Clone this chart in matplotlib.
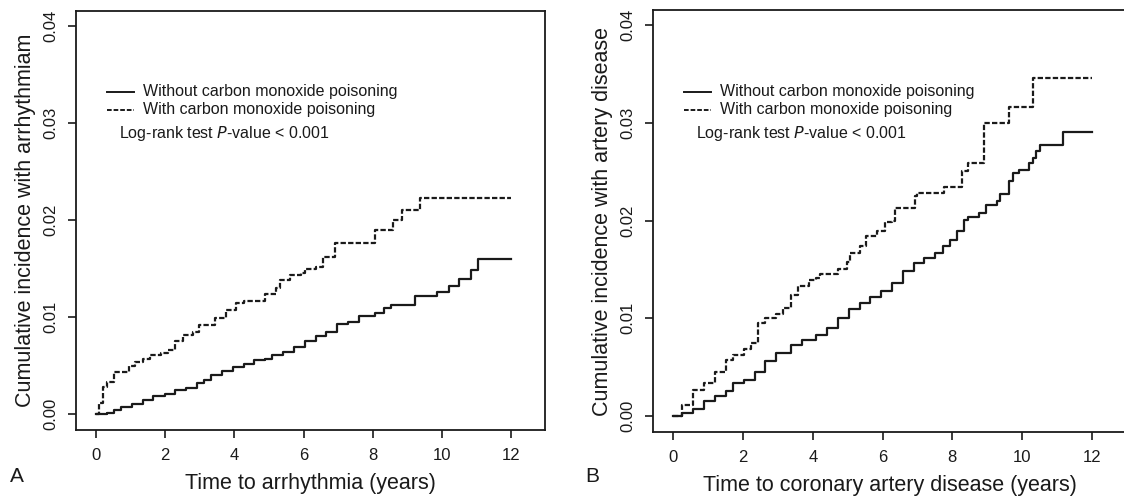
import matplotlib
matplotlib.use("Agg")
import matplotlib.pyplot as plt

plt.rcParams['font.family'] = ['Liberation Sans', 'DejaVu Sans']

# Panel A: arrhythmia
a_with_t = [0, 0.08, 0.21, 0.32, 0.52, 0.94, 1.14, 1.35, 1.56, 1.87, 2.08, 2.29, 2.5, 2.81, 2.97,
            3.43, 3.75, 4.06, 4.27, 4.89, 5.2, 5.31, 5.62, 5.93, 6.04, 6.35, 6.55, 6.92, 8.06,
            8.58, 8.84, 9.37, 12]
a_with_y = [0, 0.0011, 0.0028, 0.0033, 0.0043, 0.0049, 0.0054, 0.0057, 0.0061, 0.0063, 0.0066,
            0.0075, 0.0081, 0.0085, 0.0092, 0.0099, 0.0107, 0.0114, 0.0116, 0.0124, 0.013,
            0.0138, 0.0143, 0.0145, 0.0149, 0.0152, 0.0162, 0.0176, 0.019, 0.02, 0.021, 0.0223,
            0.0223]
a_wo_t = [0, 0.31, 0.52, 0.73, 1.04, 1.35, 1.66, 1.98, 2.29, 2.6, 2.91, 3.12, 3.33, 3.64, 3.95,
          4.27, 4.58, 4.89, 5.1, 5.41, 5.72, 6.04, 6.35, 6.66, 6.97, 7.28, 7.6, 8.06, 8.32, 8.53,
          9.21, 9.87, 10.2, 10.5, 10.84, 11.05, 12]
a_wo_y = [0, 0.0001, 0.0004, 0.0007, 0.001, 0.0014, 0.0019, 0.0021, 0.0025, 0.0027, 0.0032,
          0.0035, 0.004, 0.0044, 0.0048, 0.0052, 0.0056, 0.0057, 0.0061, 0.0064, 0.0069, 0.0075,
          0.008, 0.0085, 0.0093, 0.0095, 0.0101, 0.0104, 0.0109, 0.0112, 0.0122, 0.0126, 0.0132,
          0.0139, 0.0148, 0.016, 0.016]

# Panel B: coronary artery disease
b_with_t = [0, 0.26, 0.57, 0.88, 1.19, 1.5, 1.71, 2.02, 2.23, 2.44, 2.64, 2.95, 3.16, 3.37, 3.58,
            3.89, 4.09, 4.2, 4.72, 4.97, 5.08, 5.34, 5.54, 5.85, 6.06, 6.27, 6.37, 6.94, 6.99,
            7.77, 8.29, 8.45, 8.91, 9.64, 10.31, 12]
b_with_y = [0, 0.0011, 0.0027, 0.0034, 0.0045, 0.0057, 0.0062, 0.0068, 0.0075, 0.0095, 0.01,
            0.0104, 0.011, 0.0124, 0.0133, 0.0139, 0.0141, 0.0145, 0.015, 0.0158, 0.0167, 0.0174,
            0.0184, 0.0189, 0.0198, 0.0199, 0.0213, 0.0225, 0.0228, 0.0234, 0.0251, 0.0259, 0.03,
            0.0316, 0.0346, 0.0346]
b_wo_t = [0, 0.26, 0.57, 0.88, 1.19, 1.5, 1.71, 2.02, 2.33, 2.64, 2.95, 3.37, 3.68, 4.09, 4.4,
          4.72, 5.03, 5.34, 5.65, 5.96, 6.27, 6.58, 6.89, 7.2, 7.51, 7.72, 7.93, 8.13, 8.34, 8.45,
          8.76, 8.96, 9.27, 9.38, 9.64, 9.75, 9.9, 10.21, 10.31, 10.41, 10.52, 11.17, 12]
b_wo_y = [0, 0.0003, 0.0007, 0.0015, 0.002, 0.0025, 0.0034, 0.0037, 0.0045, 0.0056, 0.0064,
          0.0073, 0.0078, 0.0083, 0.009, 0.01, 0.0109, 0.0116, 0.0122, 0.0128, 0.0136, 0.0148,
          0.0157, 0.0162, 0.0167, 0.0174, 0.018, 0.0189, 0.0201, 0.0204, 0.0208, 0.0216, 0.022,
          0.0227, 0.024, 0.0249, 0.0252, 0.0259, 0.0264, 0.0271, 0.0277, 0.0291, 0.0291]

xticks = [0, 2, 4, 6, 8, 10, 12]
yticks = [0.00, 0.01, 0.02, 0.03, 0.04]
labels = ['Without carbon monoxide poisoning', 'With carbon monoxide poisoning']

INK = '#1a1a1a'
DASH = (0, (2.4, 1.0))

fig = plt.figure(figsize=(11.24, 5.01), dpi=100)
W, H = 1124, 501


def panel(rect, wo, wi, xlabel, ylabel, letter, letter_x):
    l, t, r, b = rect
    ax = fig.add_axes([l / W, 1 - b / H, (r - l) / W, (b - t) / H])
    ax.plot(wo[0], wo[1], drawstyle='steps-post', color=INK, lw=1.6)
    ax.plot(wi[0], wi[1], drawstyle='steps-post', color=INK, lw=1.6, linestyle=DASH)
    ax.set_xlim(-0.58, 12.98)
    ax.set_ylim(-0.00165, 0.04155)
    ax.set_xticks(xticks)
    ax.set_xticklabels([str(v) for v in xticks])
    ax.set_yticks(yticks)
    ax.set_yticklabels(['%.2f' % v for v in yticks], rotation=90, va='center')
    ax.tick_params(direction='out', length=5.8, width=1.2, labelsize=12, colors=INK, pad=7)
    for s in ax.spines.values():
        s.set_linewidth(1.3)
        s.set_color(INK)
    ax.set_xlabel(xlabel, fontsize=15.5, color=INK, labelpad=7)
    ax.set_ylabel(ylabel, fontsize=15.5, color=INK, labelpad=5.5)

    # legend drawn in data units, as in the original R plot
    ax.plot([0.31, 1.09], [0.0332, 0.0332], color=INK, lw=1.4)
    ax.plot([0.31, 1.09], [0.03135, 0.03135], color=INK, lw=1.4, linestyle=DASH)
    ax.text(1.35, 0.0332, labels[0], fontsize=11.5, color=INK, va='center', ha='left')
    ax.text(1.35, 0.03135, labels[1], fontsize=11.5, color=INK, va='center', ha='left')
    ax.text(0.66, 0.0289, 'Log-rank test $\\it{P}$-value < 0.001', fontsize=11.5, color=INK,
            va='center', ha='left')
    fig.text(letter_x / W, 1 - 476 / H, letter, fontsize=15, color=INK, va='center', ha='left')
    return ax


axA = panel((76, 11, 545, 430), (a_wo_t, a_wo_y), (a_with_t, a_with_y),
            'Time to arrhythmia (years)', 'Cumulative incidence with arrhythmiam', 'A', 10)
axB = panel((653, 10, 1126, 432), (b_wo_t, b_wo_y), (b_with_t, b_with_y),
            'Time to coronary artery disease (years)', 'Cumulative incidence with artery disease',
            'B', 585)

fig.savefig('out.png', dpi=100)
